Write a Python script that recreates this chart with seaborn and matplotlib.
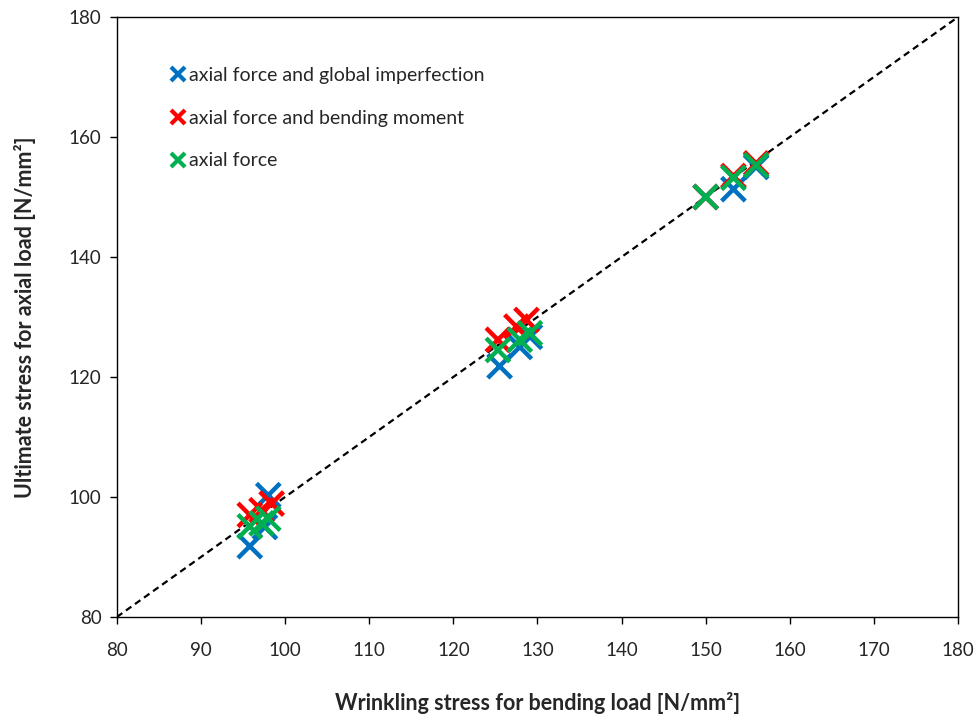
import matplotlib
matplotlib.use("Agg")
import matplotlib.pyplot as plt
from matplotlib.lines import Line2D
import seaborn as sns
import pandas as pd

# Wrinkling stress (bending) vs. ultimate stress (axial) per load case
series_names = [
    "axial force and global imperfection",
    "axial force and bending moment",
    "axial force",
]
series_colors = ["#0070C0", "#FF0000", "#00B050"]

imperf_x = [95.8, 97.6, 98.0, 125.5, 127.9, 129.1, 150.0, 153.3, 156.0]
imperf_y = [91.8, 95.0, 100.3, 121.8, 125.0, 126.7, 150.0, 151.3, 155.0]

bending_x = [95.8, 97.2, 98.4, 125.3, 127.5, 128.7, 150.0, 153.3, 156.0]
bending_y = [97.0, 97.8, 98.9, 126.2, 128.4, 129.5, 150.0, 153.5, 155.6]

axial_x = [95.8, 97.2, 98.0, 125.3, 127.9, 129.1, 150.0, 153.3, 156.0]
axial_y = [95.1, 95.6, 96.4, 124.5, 126.2, 127.3, 150.0, 153.2, 155.3]

x_ticks = [80, 90, 100, 110, 120, 130, 140, 150, 160, 170, 180]
y_ticks = [80, 100, 120, 140, 160, 180]
diag = [80, 180]

df = pd.concat([
    pd.DataFrame({"x": imperf_x, "y": imperf_y, "case": series_names[0]}),
    pd.DataFrame({"x": bending_x, "y": bending_y, "case": series_names[1]}),
    pd.DataFrame({"x": axial_x, "y": axial_y, "case": series_names[2]}),
], ignore_index=True)

sns.set_style("white")
plt.rcParams["font.family"] = ["Lato", "DejaVu Sans"]

fig = plt.figure(figsize=(9.74, 7.17), dpi=100)
ax = fig.add_axes([0.120, 0.1395, 0.8636, 0.8368])

# 1:1 reference line
ax.plot(diag, diag, color="black", linestyle=(0, (3, 2)), linewidth=1.6, zorder=1)

sns.scatterplot(
    data=df, x="x", y="y", hue="case", hue_order=series_names,
    palette=series_colors, marker="x", s=290, linewidth=3.2,
    legend=False, ax=ax, zorder=3,
)

ax.set_xlim(80, 180)
ax.set_ylim(80, 180)
ax.set_xticks(x_ticks)
ax.set_yticks(y_ticks)
ax.tick_params(axis="both", direction="out", length=5, width=1, color="black",
               labelsize=13.5, pad=6, bottom=True, left=True)
ax.tick_params(axis="x", pad=13)
for side in ["top", "right", "bottom", "left"]:
    ax.spines[side].set_color("black")
    ax.spines[side].set_linewidth(1.0)

ax.set_xlabel("Wrinkling stress for bending load [N/mm²]", fontsize=15.5,
              fontweight="bold", labelpad=24)
ax.set_ylabel("Ultimate stress for axial load [N/mm²]", fontsize=15.5,
              fontweight="bold", labelpad=24)

handles = [
    Line2D([], [], linestyle="none", marker="x", markersize=10,
           markeredgewidth=3, color=c)
    for c in series_colors
]
ax.legend(handles, series_names, loc="upper left", bbox_to_anchor=(0.056, 0.93),
          frameon=False, fontsize=14, labelspacing=1.33, handlelength=0.6,
          handletextpad=0.3, borderaxespad=0)

fig.savefig("out.png", dpi=100)
